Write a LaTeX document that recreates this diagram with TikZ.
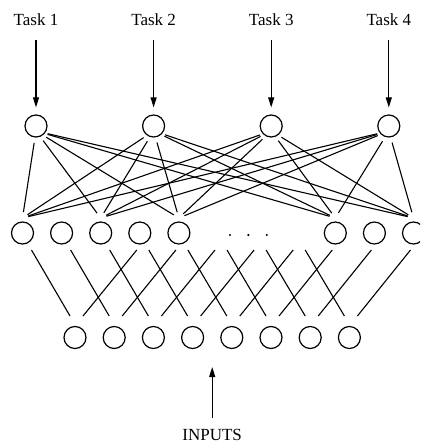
\documentclass[tikz,border=0pt]{standalone}
\usepackage{fontspec}
\setmainfont{Liberation Serif}
\usetikzlibrary{arrows.meta,calc}
\tikzset{
  unit/.style={circle, draw, minimum size=22pt, inner sep=0pt, line width=1.2pt},
  tasklabel/.style={font=\fontsize{17}{20}\selectfont, inner sep=0pt, anchor=base},
  wire/.style={line width=1.1pt},
  arr/.style={line width=1.1pt, -{Triangle[length=10pt,width=6pt]}},
}
\begin{document}
\begin{tikzpicture}[x=1pt,y=-1pt]
\useasboundingbox (0,0) rectangle (420,443);
\clip (0,0) rectangle (420,443);
% task (output) units
\foreach \i/\n in {0/1,1/2,2/3,3/4} {
  \pgfmathsetmacro\xx{36+117.6*\i}
  \node[unit] (t\i) at (\xx,126) {};
  \node[tasklabel] (task\i) at (\xx,26) {Task \n};
  \draw[arr, shorten <=14pt, shorten >=7pt] (task\i) -- (t\i);
}
% hidden units
\foreach \k in {0,1,2,3,4,8,9,10} {
  \pgfmathsetmacro\xx{22.5+39.1*\k}
  \node[unit] (m\k) at (\xx,233) {};
}
\foreach \k in {5,6,7} {
  \pgfmathsetmacro\xx{22.5+39.1*\k}
  \coordinate (m\k) at (\xx,233);
}
\foreach \d in {230,248.3,266.7} \fill (\d,235) circle (1.2pt);
% input units
\foreach \j in {0,...,7} {
  \pgfmathsetmacro\xx{75+39.2*\j}
  \node[unit] (b\j) at (\xx,337.5) {};
}
% task -> hidden connections
\foreach \i in {0,...,3} {
  \foreach \k in {0,2,4,8,10} {
    \draw[wire, shorten <=12pt, shorten >=6pt] ($(t\i.center)+(0,5)$) -- ($(m\k.center)+(0,-15)$);
  }
}
% hidden -> input connections
\foreach \j in {0,...,7} {
  \pgfmathtruncatemacro\q{\j+3}
  \draw[wire] ($(m\j.center)+(9,17)$) -- ($(b\j.center)+(-5,-21.5)$);
  \draw[wire] ($(m\q.center)+(-3,17)$) -- ($(b\j.center)+(8,-21.5)$);
}
% inputs
\node[tasklabel] (inputs) at (212.2,440) {INPUTS};
\coordinate (intip) at (212.2,367);
\draw[arr, shorten <=10.5pt] (inputs) -- (intip);
\end{tikzpicture}
\end{document}
